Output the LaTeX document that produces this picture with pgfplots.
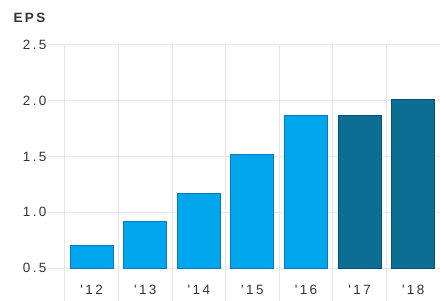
\documentclass[border=0pt]{standalone}
\usepackage{pgfplots}
\pgfplotsset{compat=1.18}
\usepackage{fontspec}
\newfontfamily\lab{Liberation Sans}[LetterSpace=18]
\definecolor{lightfill}{HTML}{00A6EC}
\definecolor{lightedge}{HTML}{0A77C8}
\definecolor{darkfill}{HTML}{0D6E94}
\definecolor{darkedge}{HTML}{0A4F78}
\definecolor{gridc}{HTML}{E6E6E6}
\definecolor{txt}{HTML}{333333}
\begin{document}
\begin{tikzpicture}
\begin{axis}[
  at={(52bp,33bp)}, anchor=south west,
  scale only axis, width=388bp, height=223bp,
  xmin=-0.74, xmax=6.5, ymin=0.5, ymax=2.5,
  axis line style={draw=none},
  xtick={-0.5,0.5,...,6.5}, xticklabel=\empty,
  xtick pos=bottom, ytick pos=left,
  xmajorgrids, ymajorgrids,
  grid style={gridc, line width=1bp},
  xtick align=outside, ytick align=inside,
  major tick length=33bp,
  x tick style={gridc, line width=1bp},
  y tick style={draw=none},
  ytick={0.5,1,...,2.5},
  /pgf/number format/assume math mode=true,
  yticklabel style={/pgf/number format/fixed, /pgf/number format/fixed zerofill, /pgf/number format/precision=1, xshift=-2bp},
  ticklabel style={font=\lab\fontsize{13.5}{15}\selectfont, text=txt},
  extra x ticks={0,1,2,3,4,5,6},
  extra x tick labels={'12,'13,'14,'15,'16,'17,'18},
  extra x tick style={major tick length=0pt, grid=none, xticklabel style={yshift=-14bp}},
  clip=false,
]
\addplot[ybar, bar width=43bp, bar shift=0pt, fill=lightfill, draw=lightedge, line width=1bp] coordinates {(0,0.70) (1,0.915) (2,1.17) (3,1.52) (4,1.87)};
\addplot[ybar, bar width=43bp, bar shift=0pt, fill=darkfill, draw=darkedge, line width=1bp] coordinates {(5,1.87) (6,2.01)};
\draw[gridc, line width=1bp] (axis cs:-0.74,0.5) -- ++(-4bp,0pt);
\draw[gridc, line width=1bp] (axis cs:-0.74,1.0) -- ++(-4bp,0pt);
\draw[gridc, line width=1bp] (axis cs:-0.74,1.5) -- ++(-4bp,0pt);
\draw[gridc, line width=1bp] (axis cs:-0.74,2.0) -- ++(-4bp,0pt);
\draw[gridc, line width=1bp] (axis cs:-0.74,2.5) -- ++(-4bp,0pt);
\end{axis}
\node[anchor=west, font=\lab\fontsize{13.5}{15}\selectfont\bfseries, text=txt] at (10bp,283bp) {EPS};
\pgfresetboundingbox
\path (0,0) rectangle (440bp,301bp);
\end{tikzpicture}
\end{document}
